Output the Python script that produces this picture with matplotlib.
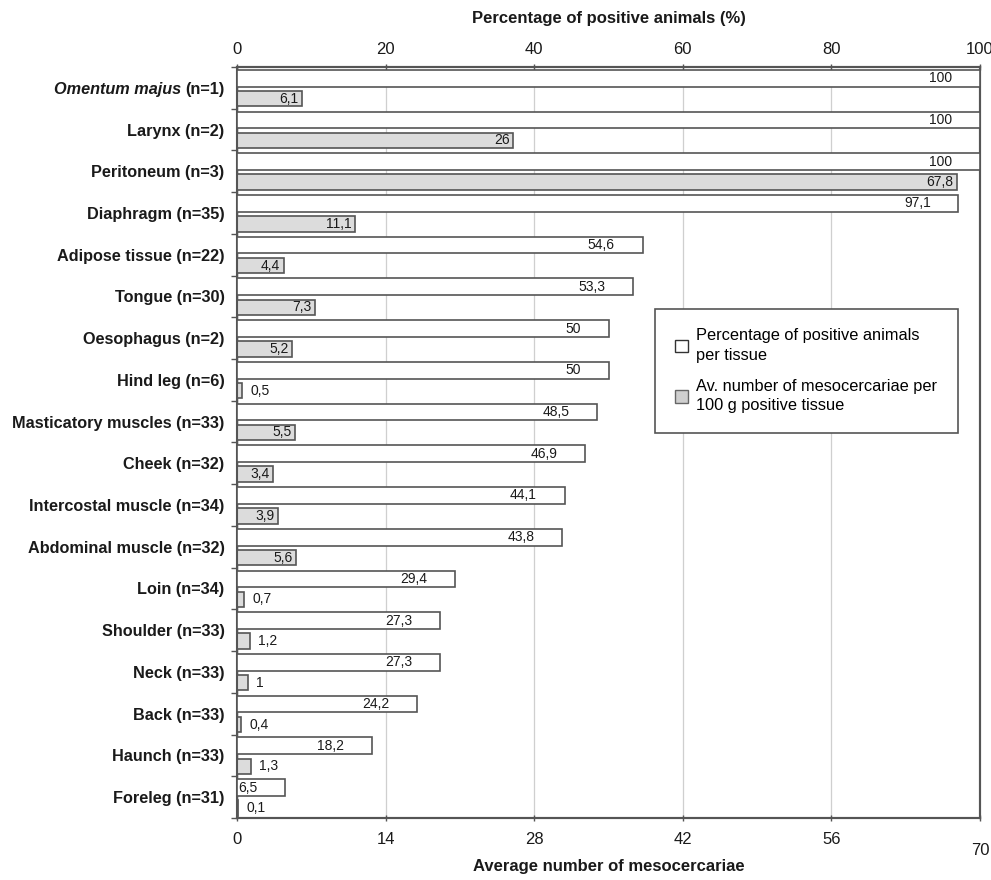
import matplotlib
matplotlib.use("Agg")
import matplotlib.pyplot as plt
from matplotlib.patches import Patch
import numpy as np

plt.rcParams.update({"font.family": ["Liberation Sans", "DejaVu Sans"], "font.size": 11})

# data
tissues = ["Omentum majus", "Larynx", "Peritoneum", "Diaphragm", "Adipose tissue", "Tongue",
           "Oesophagus", "Hind leg", "Masticatory muscles", "Cheek", "Intercostal muscle",
           "Abdominal muscle", "Loin", "Shoulder", "Neck", "Back", "Haunch", "Foreleg"]
n_animals = [1, 2, 3, 35, 22, 30, 2, 6, 33, 32, 34, 32, 34, 33, 33, 33, 33, 31]
pct_positive = [100, 100, 100, 97.1, 54.6, 53.3, 50, 50, 48.5, 46.9, 44.1, 43.8,
                29.4, 27.3, 27.3, 24.2, 18.2, 6.5]
avg_meso = [6.1, 26, 67.8, 11.1, 4.4, 7.3, 5.2, 0.5, 5.5, 3.4, 3.9, 5.6,
            0.7, 1.2, 1, 0.4, 1.3, 0.1]
pct_ticks = [0, 20, 40, 60, 80, 100]
avg_ticks = [0, 14, 28, 42, 56, 70]

EDGE, GREYFILL, TXT = "#555555", "#dcdcdc", "#1a1a1a"


def fmt(v):
    return f"{v:g}".replace(".", ",")


fig = plt.figure(figsize=(9.91, 8.8), dpi=100)
ax = fig.add_axes([0.2392, 0.0705, 0.7497, 0.8534])   # bottom axis: average number
ax2 = ax.twiny()                                      # top axis: percentage
y = np.arange(len(tissues))

ax.barh(y + 0.26, avg_meso, height=0.37, color=GREYFILL, edgecolor=EDGE, lw=1.2, zorder=3)
ax2.barh(y - 0.23, pct_positive, height=0.40, color="white", edgecolor=EDGE, lw=1.2, zorder=3)

for yy, v in zip(y, pct_positive):
    ax2.annotate(fmt(v), (v, yy - 0.23), xytext=(-20, 0), textcoords="offset points",
                 ha="right", va="center", fontsize=10, color=TXT, zorder=5)
for yy, v in zip(y, avg_meso):
    if v >= 2:
        ax.annotate(fmt(v), (v, yy + 0.26), xytext=(-2.5, 0), textcoords="offset points",
                    ha="right", va="center", fontsize=10, color=TXT, zorder=5)
    else:
        ax.annotate(fmt(v), (v, yy + 0.26), xytext=(6, 0), textcoords="offset points",
                    ha="left", va="center", fontsize=10, color=TXT, zorder=5)

ax.set_xlim(0, 70); ax2.set_xlim(0, 100)
ax.set_ylim(len(tissues) - 0.5, -0.5)
ax.set_xticks(avg_ticks); ax2.set_xticks(pct_ticks)
ax.set_xticklabels([str(t) for t in avg_ticks]); ax2.set_xticklabels([str(t) for t in pct_ticks])
ax.grid(True, axis="x", color="#cfcfcf", lw=0.9, zorder=0)
ax.set_axisbelow(True)

labels = [f"{t} (n={n})" for t, n in zip(tissues, n_animals)]
labels[0] = f"(n={n_animals[0]})"
ax.set_yticks(y)
ax.set_yticklabels(labels, fontweight="bold", fontsize=11.7, color=TXT)
ax.set_yticks(np.arange(len(tissues) + 1) - 0.5, minor=True)
ax.tick_params(axis="y", which="major", length=0, pad=9)
ax.tick_params(axis="y", which="minor", length=4, width=1, color=EDGE)
ax.tick_params(axis="x", length=4, width=1, color=EDGE, direction="inout", labelsize=12, labelcolor=TXT, pad=8)
ax2.tick_params(axis="x", length=4, width=1, color=EDGE, direction="inout", labelsize=12, labelcolor=TXT, pad=5)
ax.xaxis.get_major_ticks()[-1].set_pad(16)

fig.canvas.draw()
first = ax.get_yticklabels()[0]
ax.annotate(tissues[0] + " ", xy=(0, 0), xycoords=first, ha="right", va="bottom",
            fontsize=11.7, fontweight="bold", fontstyle="italic", color=TXT)

for a in (ax, ax2):
    for s in a.spines.values():
        s.set_color(EDGE); s.set_linewidth(1.5)
ax.spines["left"].set_linewidth(1.0)

ax.set_xlabel("Average number of mesocercariae", fontweight="bold", fontsize=12, color=TXT)
ax.xaxis.set_label_coords(0.5, -0.055)
ax2.set_xlabel("Percentage of positive animals (%)", fontweight="bold", fontsize=12, color=TXT)
ax2.xaxis.set_label_coords(0.5, 1.058)

handles = [Patch(facecolor="white", edgecolor="#333333", lw=1.0),
           Patch(facecolor="#cfcfcf", edgecolor="#666666", lw=1.0)]
leg = ax2.legend(handles, ["Percentage of positive animals\nper tissue",
                           "Av. number of mesocercariae per\n100 g positive tissue"],
                 loc="upper left", bbox_to_anchor=(0.563, 0.678, 0.407, 0.0), mode="expand",
                 fontsize=11.8, frameon=True, fancybox=False, edgecolor=EDGE, framealpha=1,
                 handlelength=0.8, handleheight=0.8, handletextpad=0.5, labelspacing=1.0,
                 borderpad=1.2, borderaxespad=0)
for t in leg.get_texts():
    t.set_linespacing(1.35)
leg.get_frame().set_linewidth(1.2)
leg.set_zorder(10)

fig.savefig("out.png", dpi=100)
